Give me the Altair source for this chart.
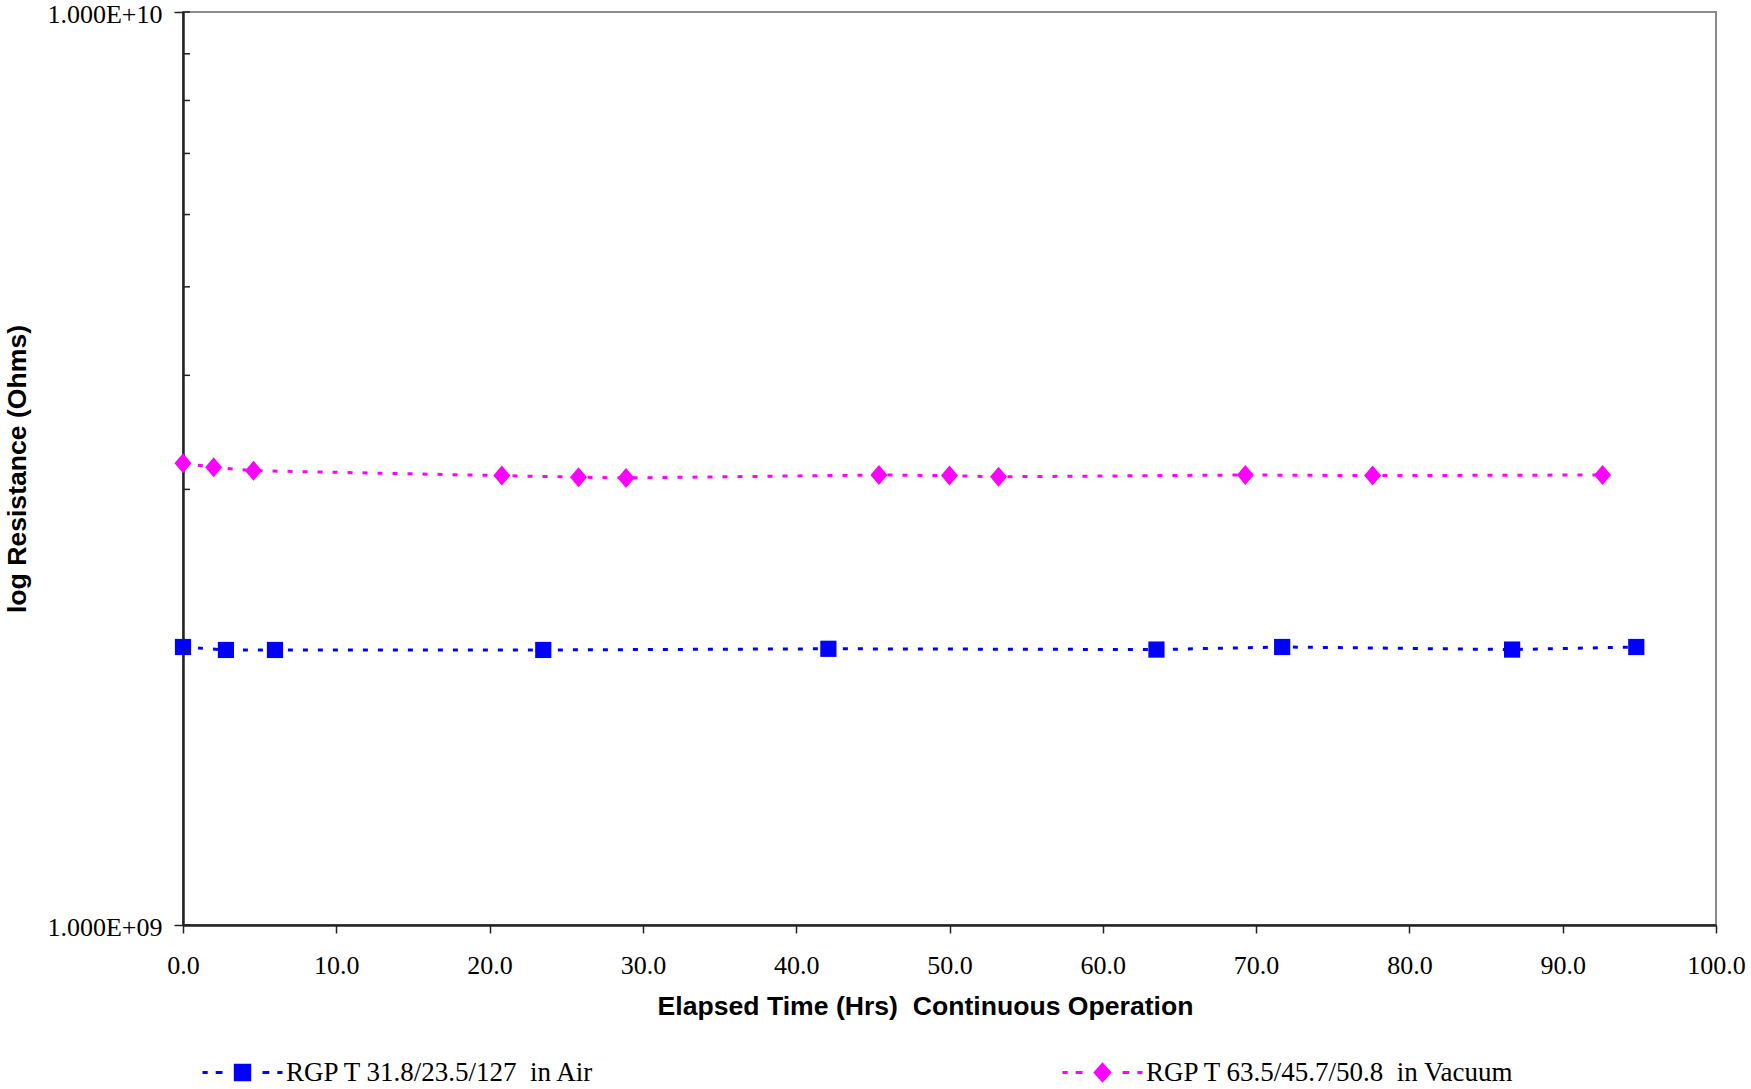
import altair as alt
import pandas as pd

# ---- data ----
blue_name = "RGP T 31.8/23.5/127 \u00a0in Air"
mag_name = "RGP T 63.5/45.7/50.8 \u00a0in Vacuum"
series_names = [blue_name, mag_name]
series_colors = ["#0000FF", "#FF00FF"]

blue_hrs = [0.0, 2.8, 6.0, 23.5, 42.1, 63.5, 71.7, 86.7, 94.8]
blue_ohms = [2.016e9, 2.001e9, 2.001e9, 2.001e9, 2.007e9, 2.003e9, 2.016e9, 2.003e9, 2.016e9]

mag_hrs = [0.0, 2.0, 4.6, 20.8, 25.8, 28.9, 45.4, 50.0, 53.2, 69.3, 77.6, 92.6]
mag_ohms = [3.205e9, 3.172e9, 3.145e9, 3.106e9, 3.094e9, 3.088e9, 3.111e9, 3.106e9,
            3.097e9, 3.111e9, 3.106e9, 3.111e9]

x_ticks = [0, 10, 20, 30, 40, 50, 60, 70, 80, 90, 100]
y_ticks = [1e9, 1e10]
y_tick_labels = ["1.000E+09", "1.000E+10"]
y_inner_ticks = [1e9, 2e9, 3e9, 4e9, 5e9, 6e9, 7e9, 8e9, 9e9, 1e10]

x_title = "Elapsed Time (Hrs) \u00a0Continuous Operation"
y_title = "log Resistance (Ohms)"

SERIF = "Liberation Serif"
SANS = "Liberation Sans"

# ---- tables ----
df_blue = pd.DataFrame({"hrs": blue_hrs, "ohms": blue_ohms, "series": blue_name})
df_mag = pd.DataFrame({"hrs": mag_hrs, "ohms": mag_ohms, "series": mag_name})
df_all = pd.concat([df_blue, df_mag], ignore_index=True)
df_inner = pd.DataFrame({"ohms": y_inner_ticks})
# legend-only points, placed outside the x domain (clipped away)
df_leg_blue = pd.DataFrame({"hrs": [-50.0], "ohms": [2e9], "series": [blue_name]})
df_leg_mag = pd.DataFrame({"hrs": [-50.0], "ohms": [3e9], "series": [mag_name]})

label_expr = f"datum.value < 3e9 ? '{y_tick_labels[0]}' : '{y_tick_labels[1]}'"

x_enc = alt.X(
    "hrs:Q",
    scale=alt.Scale(domain=[0, 100], nice=False, zero=False),
    axis=alt.Axis(
        values=x_ticks, format=".1f", title=x_title, tickSize=8, labelPadding=32,
        labelBaseline="middle", labelFlush=False, labelOverlap=False,
        titleX=742, titleY=81, titleAlign="center", titleBaseline="middle",
    ),
)
y_enc = alt.Y(
    "ohms:Q",
    scale=alt.Scale(type="log", domain=[1e9, 1e10], nice=False),
    axis=alt.Axis(
        values=y_ticks, labelExpr=label_expr, title=y_title, tickSize=9,
        labelPadding=12, labelBaseline="middle", labelFlush=False, labelOverlap=False,
        labelOffset=2, titleX=-166, titleBaseline="middle",
    ),
)

color_scale = alt.Scale(domain=series_names, range=series_colors)

sq_mark = "M-0.9,-0.9H0.9V0.9H-0.9Z"
dia_mark = "M0,-1L0.85,0L0,1L-0.85,0Z"

lines = alt.Chart(df_all).mark_line(strokeWidth=3, strokeDash=[5, 10]).encode(
    x=x_enc, y=y_enc,
    color=alt.Color("series:N", scale=color_scale, legend=None),
)

pts_blue = alt.Chart(df_blue).mark_point(
    shape=sq_mark, filled=True, size=324, opacity=1, color=series_colors[0]
).encode(x=x_enc, y=y_enc)

pts_mag = alt.Chart(df_mag).mark_point(
    shape=dia_mark, filled=True, size=400, opacity=1, color=series_colors[1]
).encode(x=x_enc, y=y_enc)

inner_ticks = alt.Chart(df_inner).mark_rule(color="#222222", strokeWidth=1.5).encode(
    y=y_enc, x=alt.value(0), x2=alt.value(7)
)

# legend symbols: dashed line with the marker in the middle
sq_path = ("M-1,0H-0.87M-0.67,0H-0.5M-0.18,-0.18H0.18V0.18H-0.18Z"
           "M0.5,0H0.67M0.87,0H1")
dia_path = ("M-1,0H-0.87M-0.67,0H-0.5M0,-0.2L0.18,0L0,0.2L-0.18,0Z"
            "M0.5,0H0.67M0.87,0H1")

def make_legend(x, path, col):
    return alt.Legend(
        title=None, orient="none", legendX=x, legendY=1019, direction="horizontal",
        labelFont=SERIF, labelFontSize=27, labelColor="black", labelOffset=2,
        labelLimit=800, symbolType=path, symbolSize=6400, symbolStrokeWidth=3,
        symbolFillColor=col, symbolStrokeColor=col, symbolOpacity=1,
    )

leg_blue = alt.Chart(df_leg_blue).mark_point(
    filled=True, clip=True, opacity=1, stroke=series_colors[0], strokeWidth=3
).encode(
    x=x_enc, y=y_enc,
    fill=alt.Fill("series:N", scale=alt.Scale(domain=[blue_name], range=[series_colors[0]]),
                  legend=make_legend(18, sq_path, series_colors[0])),
)

leg_mag = alt.Chart(df_leg_mag).mark_point(
    filled=True, clip=True, opacity=1, fill=series_colors[1], strokeWidth=3
).encode(
    x=x_enc, y=y_enc,
    stroke=alt.Stroke("series:N", scale=alt.Scale(domain=[mag_name], range=[series_colors[1]]),
                      legend=make_legend(878, dia_path, series_colors[1])),
)

chart = (
    alt.layer(lines, pts_blue, pts_mag, inner_ticks, leg_blue, leg_mag)
    .resolve_legend(fill="independent", stroke="independent")
    .properties(
        width=1533, height=913,
        autosize=alt.AutoSizeParams(type="none"),
        padding={"left": 183, "top": 12, "right": 35, "bottom": 164},
        background="white",
    )
    .configure_view(stroke="#8c8c8c", strokeWidth=2)
    .configure_axis(
        labelFont=SERIF, labelFontSize=26, labelColor="black",
        titleFont=SANS, titleFontWeight="bold", titleFontSize=26.6, titleColor="black",
        domainColor="#222222", domainWidth=2.5, tickColor="#222222", tickWidth=1.5,
        grid=False,
    )
)

chart.save("out.html", embed_options={"renderer": "svg", "actions": False})
